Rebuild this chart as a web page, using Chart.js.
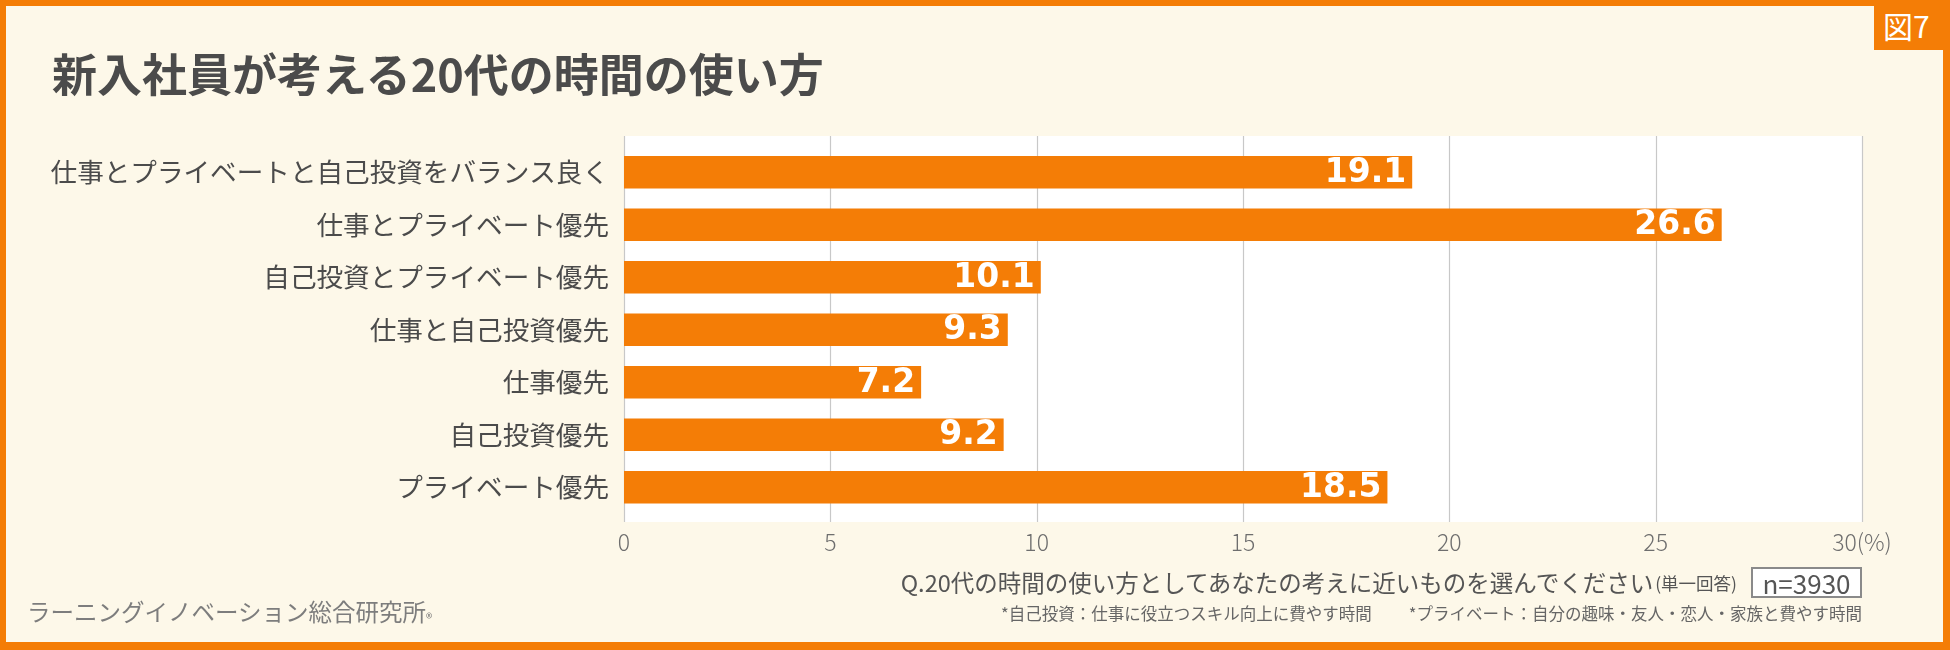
<!DOCTYPE html>
<html lang="ja">
<head>
<meta charset="utf-8">
<title>新入社員が考える20代の時間の使い方</title>
<script src="https://cdn.jsdelivr.net/npm/chart.js@4.4.1/dist/chart.umd.min.js"></script>
<style>
    body { margin: 0; }
    #frame {
        position: relative;
        width: 1950px;
        height: 650px;
        background: #fdf8e9;
        overflow: hidden;
        font-family: "Noto Sans CJK JP", "Noto Sans", sans-serif;
        color: #4b4b4b;
    }
    #border {
        position: absolute;
        inset: 0;
        box-sizing: border-box;
        border: 6px solid #f47d06;
        border-right-width: 7px;
        border-bottom-width: 8px;
        pointer-events: none;
        z-index: 3;
    }
    #chart { position: absolute; left: 0; top: 0; }
    .abs { position: absolute; white-space: nowrap; line-height: 1; }
    #title { left: 52px; top: 50px; font-size: 45px; font-weight: bold; color: #4b4b4b; }
    #fig {
        left: 1874px; top: 0; width: 76px; height: 50px;
        background: #f47d06; color: #fff; font-size: 30px;
        display: flex; align-items: center; padding-left: 9px; box-sizing: border-box;
        z-index: 4;
    }
    #question {
        right: 88px; top: 567px; height: 31px;
        display: flex; align-items: center;
        font-size: 23.5px; color: #555;
    }
    #question small { font-size: 17.5px; margin-left: 2px; }
    #nbox {
        margin-left: 14px; height: 31px; width: 111px; box-sizing: border-box;
        border: 2px solid #8a8a8a; background: #fff;
        display: flex; align-items: center; justify-content: center;
        font-size: 26px; color: #555;
    }
    #notes { right: 88px; top: 605px; font-size: 16.5px; color: #666; }
    #notes span + span { margin-left: 37px; }
    #company { left: 27px; top: 600px; font-size: 23.5px; color: #7d7d7d; }
    #company sup { font-size: 13px; vertical-align: -2px; }
</style>
</head>
<body>
<div id="frame">
    <canvas id="chart" width="1950" height="650"></canvas>
    <div id="title" class="abs">新入社員が考える20代の時間の使い方</div>
    <div id="fig" class="abs">図7</div>
    <div id="question" class="abs">
        <span>Q.20代の時間の使い方としてあなたの考えに近いものを選んでください</span><small>(単一回答)</small>
        <div id="nbox">n=3930</div>
    </div>
    <div id="notes" class="abs"><span>*自己投資：仕事に役立つスキル向上に費やす時間</span><span>*プライベート：自分の趣味・友人・恋人・家族と費やす時間</span></div>
    <div id="company" class="abs">ラーニングイノベーション総合研究所<sup>®</sup></div>
    <div id="border"></div>
</div>
<script>
const categories = [
    '仕事とプライベートと自己投資をバランス良く',
    '仕事とプライベート優先',
    '自己投資とプライベート優先',
    '仕事と自己投資優先',
    '仕事優先',
    '自己投資優先',
    'プライベート優先'
];
const shares = [19.1, 26.6, 10.1, 9.3, 7.2, 9.2, 18.5];
const tickLabels = ['0', '5', '10', '15', '20', '25', '30(%)'];

const ORANGE = '#f47d06';

// white plot panel + vertical grid lines, a bit taller than the chart area
const plotPanel = {
    id: 'plotPanel',
    beforeDatasetsDraw: chart => {
        const ctx = chart.ctx;
        const area = chart.chartArea;
        const xs = chart.scales.x;
        const top = area.top - 10;
        const bottom = area.bottom + 8.5;
        ctx.save();
        ctx.fillStyle = '#ffffff';
        ctx.fillRect(area.left, top, area.right - area.left, bottom - top);
        ctx.strokeStyle = '#c8c8c8';
        ctx.lineWidth = 1.2;
        xs.ticks.forEach(tick => {
            const x = Math.round(xs.getPixelForValue(tick.value)) + 0.5;
            ctx.beginPath();
            ctx.moveTo(x, top);
            ctx.lineTo(x, bottom);
            ctx.stroke();
        });
        ctx.restore();
    }
};

const valueLabels = {
    id: 'valueLabels',
    afterDatasetsDraw: chart => {
        const ctx = chart.ctx;
        const meta = chart.getDatasetMeta(0);
        ctx.save();
        ctx.fillStyle = '#ffffff';
        ctx.font = 'bold 33px "DejaVu Sans", sans-serif';
        ctx.textAlign = 'right';
        ctx.textBaseline = 'middle';
        meta.data.forEach((bar, i) => {
            ctx.fillText(shares[i].toFixed(1), bar.x - 6, bar.y + 1);
        });
        ctx.restore();
    }
};

const ctx = document.getElementById('chart').getContext('2d');

const chart = new Chart(ctx, {
    type: 'bar',
    data: {
        labels: categories,
        datasets: [{
            data: shares,
            backgroundColor: ORANGE,
            borderWidth: 0,
            categoryPercentage: 1,
            barPercentage: 0.62
        }]
    },
    options: {
        indexAxis: 'y',
        responsive: false,
        animation: false,
        devicePixelRatio: 1,
        layout: {
            padding: { left: 0, top: 146, right: 88, bottom: 0 }
        },
        plugins: {
            legend: { display: false },
            tooltip: { enabled: false }
        },
        scales: {
            x: {
                min: 0,
                max: 30,
                ticks: {
                    stepSize: 5,
                    padding: 15,
                    color: '#6e6e6e',
                    font: { family: '"Noto Sans CJK JP", sans-serif', size: 23, weight: 300 },
                    callback: (value, index) => tickLabels[index]
                },
                grid: { display: false, drawTicks: false },
                border: { display: false },
                afterFit: scale => { scale.height = 136.5; }
            },
            y: {
                ticks: {
                    padding: 15,
                    color: '#4b4b4b',
                    font: { family: '"Noto Sans CJK JP", sans-serif', size: 26.6 }
                },
                grid: { display: false, drawTicks: false },
                border: { display: false },
                afterFit: scale => { scale.width = 624; }
            }
        }
    },
    plugins: [plotPanel, valueLabels]
});
</script>
</body>
</html>
